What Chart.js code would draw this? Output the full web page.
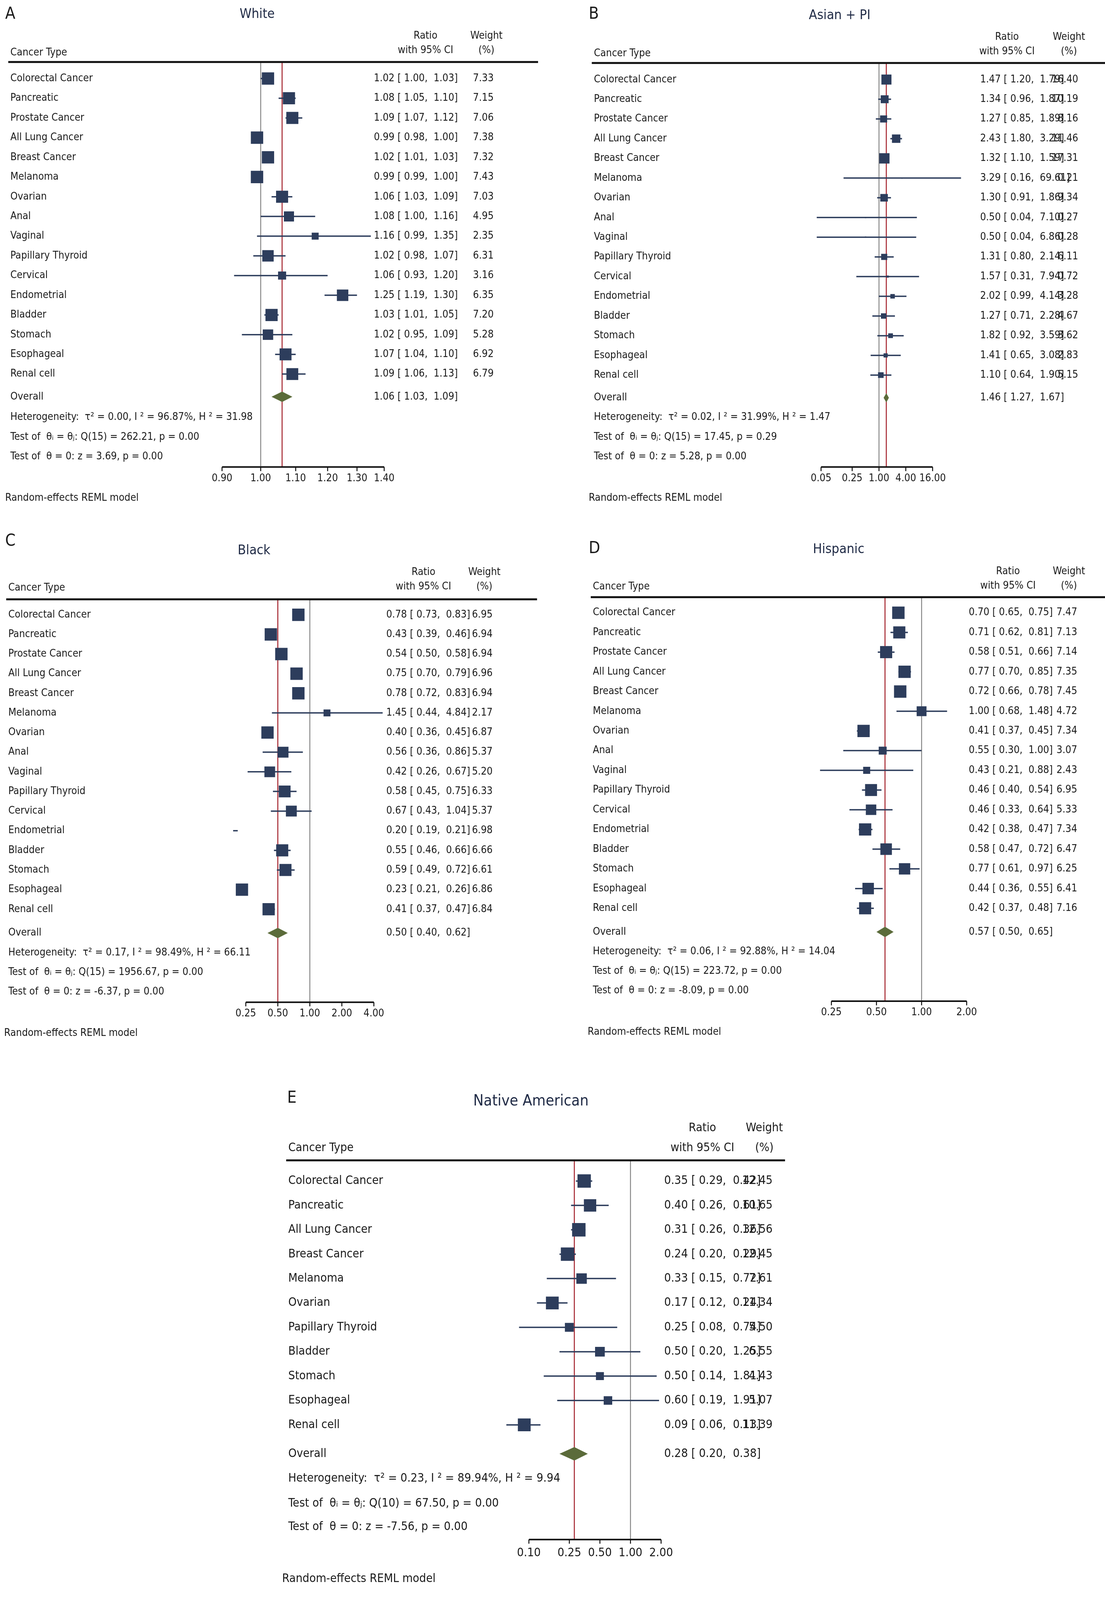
<!DOCTYPE html>
<html>
<head>
<meta charset="utf-8">
<script src="https://cdn.jsdelivr.net/npm/chart.js@4"></script>
<style>
  body { margin: 0; background: #fff; width: 2830px; height: 4133px; position: relative; overflow: hidden; }
  canvas { position: absolute; }
</style>
</head>
<body>
<script>
// dados das 5 populacoes
const tipos16 = ['Colorectal Cancer', 'Pancreatic', 'Prostate Cancer', 'All Lung Cancer', 'Breast Cancer', 'Melanoma', 'Ovarian', 'Anal', 'Vaginal', 'Papillary Thyroid', 'Cervical', 'Endometrial', 'Bladder', 'Stomach', 'Esophageal', 'Renal cell'];
const tiposNA = ['Colorectal Cancer', 'Pancreatic', 'All Lung Cancer', 'Breast Cancer', 'Melanoma', 'Ovarian', 'Papillary Thyroid', 'Bladder', 'Stomach', 'Esophageal', 'Renal cell'];

const whiteRatio = [1.02, 1.08, 1.09, 0.99, 1.02, 0.99, 1.06, 1.08, 1.16, 1.02, 1.06, 1.25, 1.03, 1.02, 1.07, 1.09];
const whiteLo = [1.00, 1.05, 1.07, 0.98, 1.01, 0.99, 1.03, 1.00, 0.99, 0.98, 0.93, 1.19, 1.01, 0.95, 1.04, 1.06];
const whiteHi = [1.03, 1.10, 1.12, 1.00, 1.03, 1.00, 1.09, 1.16, 1.35, 1.07, 1.20, 1.30, 1.05, 1.09, 1.10, 1.13];
const whiteWeight = [7.33, 7.15, 7.06, 7.38, 7.32, 7.43, 7.03, 4.95, 2.35, 6.31, 3.16, 6.35, 7.20, 5.28, 6.92, 6.79];
const whiteOverall = [1.06, 1.03, 1.09];
const whiteTicks = [0.90, 1.00, 1.10, 1.20, 1.30, 1.40];

const asianRatio = [1.47, 1.34, 1.27, 2.43, 1.32, 3.29, 1.30, 0.50, 0.50, 1.31, 1.57, 2.02, 1.27, 1.82, 1.41, 1.10];
const asianLo = [1.20, 0.96, 0.85, 1.80, 1.10, 0.16, 0.91, 0.04, 0.04, 0.80, 0.31, 0.99, 0.71, 0.92, 0.65, 0.64];
const asianHi = [1.79, 1.87, 1.89, 3.29, 1.59, 69.61, 1.86, 7.10, 6.86, 2.14, 7.94, 4.14, 2.28, 3.59, 3.08, 1.90];
const asianWeight = [16.40, 10.19, 8.16, 11.46, 17.31, 0.21, 9.34, 0.27, 0.28, 6.11, 0.72, 3.28, 4.67, 3.62, 2.83, 5.15];
const asianOverall = [1.46, 1.27, 1.67];
const asianTicks = [0.05, 0.25, 1.00, 4.00, 16.00];

const blackRatio = [0.78, 0.43, 0.54, 0.75, 0.78, 1.45, 0.40, 0.56, 0.42, 0.58, 0.67, 0.20, 0.55, 0.59, 0.23, 0.41];
const blackLo = [0.73, 0.39, 0.50, 0.70, 0.72, 0.44, 0.36, 0.36, 0.26, 0.45, 0.43, 0.19, 0.46, 0.49, 0.21, 0.37];
const blackHi = [0.83, 0.46, 0.58, 0.79, 0.83, 4.84, 0.45, 0.86, 0.67, 0.75, 1.04, 0.21, 0.66, 0.72, 0.26, 0.47];
const blackWeight = [6.95, 6.94, 6.94, 6.96, 6.94, 2.17, 6.87, 5.37, 5.20, 6.33, 5.37, 6.98, 6.66, 6.61, 6.86, 6.84];
const blackOverall = [0.50, 0.40, 0.62];
const blackTicks = [0.25, 0.50, 1.00, 2.00, 4.00];

const hispRatio = [0.70, 0.71, 0.58, 0.77, 0.72, 1.00, 0.41, 0.55, 0.43, 0.46, 0.46, 0.42, 0.58, 0.77, 0.44, 0.42];
const hispLo = [0.65, 0.62, 0.51, 0.70, 0.66, 0.68, 0.37, 0.30, 0.21, 0.40, 0.33, 0.38, 0.47, 0.61, 0.36, 0.37];
const hispHi = [0.75, 0.81, 0.66, 0.85, 0.78, 1.48, 0.45, 1.00, 0.88, 0.54, 0.64, 0.47, 0.72, 0.97, 0.55, 0.48];
const hispWeight = [7.47, 7.13, 7.14, 7.35, 7.45, 4.72, 7.34, 3.07, 2.43, 6.95, 5.33, 7.34, 6.47, 6.25, 6.41, 7.16];
const hispOverall = [0.57, 0.50, 0.65];
const hispTicks = [0.25, 0.50, 1.00, 2.00];

const naRatio = [0.35, 0.40, 0.31, 0.24, 0.33, 0.17, 0.25, 0.50, 0.50, 0.60, 0.09];
const naLo = [0.29, 0.26, 0.26, 0.20, 0.15, 0.12, 0.08, 0.20, 0.14, 0.19, 0.06];
const naHi = [0.42, 0.61, 0.36, 0.29, 0.72, 0.24, 0.74, 1.25, 1.81, 1.91, 0.13];
const naWeight = [12.45, 10.65, 12.56, 12.45, 7.61, 11.34, 5.50, 6.55, 4.43, 5.07, 11.39];
const naOverall = [0.28, 0.20, 0.38];
const naTicks = [0.10, 0.25, 0.50, 1.00, 2.00];

const S = 2.645; // escala da imagem
const FONTE = '"Liberation Sans Narrow", "DejaVu Sans Condensed", sans-serif';
const AZUL = '#2d3d5c', VERDE = '#5b6b3a', VERMELHO = '#a3202a', CINZA = '#8a8a8a', TEXTO = '#1a1a1a';

const paineis = [
  { letra: 'A', titulo: 'White', tipos: tipos16, ratio: whiteRatio, lo: whiteLo, hi: whiteHi, peso: whiteWeight, overall: whiteOverall, ticks: whiteTicks,
    stats: ['0.00', '96.87%', '31.98', '15', '262.21', '0.00', '3.69'],
    box: [0, 0, 550, 500], letraXY: [5, 14], tituloXY: [249, 14], hdrY: [35, 49], ctY: 51, ctX: 10, ratioX: 412, pesoX: 471,
    sep: [8, 521, 60], row0: 76, sp: 19.07, overallY: 384, statsY: [404, 423, 442], statsX: 10, axisY: 452, tickY: 463, reml: [5, 482],
    x0: 215, x1: 372, ratioTxt: 362, pesoR: 478, fs: 10, sq: 12, dia: 10 },
  { letra: 'B', titulo: 'Asian + PI', tipos: tipos16, ratio: asianRatio, lo: asianLo, hi: asianHi, peso: asianWeight, overall: asianOverall, ticks: asianTicks,
    stats: ['0.02', '31.99%', '1.47', '15', '17.45', '0.29', '5.28'],
    box: [555, 0, 530, 500], letraXY: [570, 14], tituloXY: [813, 15], hdrY: [36, 50], ctY: 52, ctX: 575, ratioX: 975, pesoX: 1035,
    sep: [573, 1085, 61], row0: 77, sp: 19.07, overallY: 385, statsY: [404, 423, 442], statsX: 575, axisY: 452, tickY: 463, reml: [570, 482],
    x0: 795, x1: 903, ratioTxt: 949, pesoR: 1044, fs: 10, sq: 10, dia: 9 },
  { letra: 'C', titulo: 'Black', tipos: tipos16, ratio: blackRatio, lo: blackLo, hi: blackHi, peso: blackWeight, overall: blackOverall, ticks: blackTicks,
    stats: ['0.17', '98.49%', '66.11', '15', '1956.67', '0.00', '-6.37'],
    box: [0, 510, 550, 500], letraXY: [5, 524], tituloXY: [246, 533], hdrY: [554, 568], ctY: 569, ctX: 8, ratioX: 410, pesoX: 469,
    sep: [6, 520, 580], row0: 595, sp: 19.0, overallY: 903, statsY: [922, 941, 960], statsX: 8, axisY: 970, tickY: 981, reml: [4, 1000],
    x0: 238, x1: 362, ratioTxt: 374, pesoR: 477, fs: 10, sq: 12, dia: 10 },
  { letra: 'D', titulo: 'Hispanic', tipos: tipos16, ratio: hispRatio, lo: hispLo, hi: hispHi, peso: hispWeight, overall: hispOverall, ticks: hispTicks,
    stats: ['0.06', '92.88%', '14.04', '15', '223.72', '0.00', '-8.09'],
    box: [555, 510, 530, 500], letraXY: [570, 531], tituloXY: [812, 532], hdrY: [553, 567], ctY: 568, ctX: 574, ratioX: 976, pesoX: 1035,
    sep: [572, 1085, 578], row0: 593, sp: 19.07, overallY: 902, statsY: [921, 940, 959], statsX: 574, axisY: 969, tickY: 980, reml: [569, 999],
    x0: 805, x1: 936, ratioTxt: 938, pesoR: 1043, fs: 10, sq: 12, dia: 10 },
  { letra: 'E', titulo: 'Native American', tipos: tiposNA, ratio: naRatio, lo: naLo, hi: naHi, peso: naWeight, overall: naOverall, ticks: naTicks,
    stats: ['0.23', '89.94%', '9.94', '10', '67.50', '0.00', '-7.56'],
    box: [260, 1040, 540, 500], letraXY: [278, 1063], tituloXY: [514, 1066], hdrY: [1092, 1111], ctY: 1111, ctX: 279, ratioX: 680, pesoX: 740,
    sep: [277, 760, 1123], row0: 1143, sp: 23.6, overallY: 1407, statsY: [1431, 1455, 1478], statsX: 279, axisY: 1490, tickY: 1503, reml: [273, 1528],
    x0: 512, x1: 640, ratioTxt: 643, pesoR: 748, fs: 11.5, sq: 13, dia: 13 }
];

const f2 = v => v.toFixed(2);

function desenharPainel(p) {
  const cv = document.createElement('canvas');
  const W = Math.round(p.box[2] * S), H = Math.round(p.box[3] * S);
  cv.width = W; cv.height = H;
  cv.style.left = Math.round(p.box[0] * S) + 'px';
  cv.style.top = Math.round(p.box[1] * S) + 'px';
  document.body.appendChild(cv);
  const ox = p.box[0], oy = p.box[1];
  const px = v => (v) * S;
  const n = p.tipos.length;
  const wmax = Math.max(...p.peso);
  const yMin = (p.sep[2] - p.row0) / p.sp, yMax = (p.axisY - p.row0) / p.sp;
  const idxOverall = (p.overallY - p.row0) / p.sp;

  const forest = {
    id: 'forest',
    beforeDatasetsDraw(chart) {
      const c = chart.ctx, xs = chart.scales.x, ys = chart.scales.y, a = chart.chartArea;
      c.save();
      // linhas de referencia
      c.lineWidth = 2.5;
      c.strokeStyle = CINZA;
      c.beginPath(); c.moveTo(xs.getPixelForValue(1), a.top); c.lineTo(xs.getPixelForValue(1), a.bottom); c.stroke();
      c.strokeStyle = VERMELHO;
      c.beginPath(); c.moveTo(xs.getPixelForValue(p.overall[0]), a.top); c.lineTo(xs.getPixelForValue(p.overall[0]), a.bottom); c.stroke();
      // intervalos de confianca
      c.strokeStyle = AZUL; c.lineWidth = 3.5;
      for (let i = 0; i < n; i++) {
        const y = ys.getPixelForValue(i);
        c.beginPath(); c.moveTo(xs.getPixelForValue(p.lo[i]), y); c.lineTo(xs.getPixelForValue(p.hi[i]), y); c.stroke();
      }
      c.restore();
    },
    afterDatasetsDraw(chart) {
      const c = chart.ctx, xs = chart.scales.x, ys = chart.scales.y, a = chart.chartArea;
      c.save();
      // diamante do overall
      const yo = ys.getPixelForValue(idxOverall), h = px(p.dia) / 2;
      c.fillStyle = VERDE;
      c.beginPath();
      c.moveTo(xs.getPixelForValue(p.overall[1]), yo);
      c.lineTo(xs.getPixelForValue(p.overall[0]), yo - h);
      c.lineTo(xs.getPixelForValue(p.overall[2]), yo);
      c.lineTo(xs.getPixelForValue(p.overall[0]), yo + h);
      c.closePath(); c.fill();
      // eixo x
      c.strokeStyle = '#111'; c.lineWidth = 4;
      c.beginPath(); c.moveTo(a.left, a.bottom); c.lineTo(a.right, a.bottom); c.stroke();
      c.lineWidth = 2.5;
      c.fillStyle = TEXTO;
      c.font = px(p.fs) + 'px ' + FONTE;
      c.textAlign = 'center'; c.textBaseline = 'middle';
      p.ticks.forEach(t => {
        const x = xs.getPixelForValue(t);
        c.beginPath(); c.moveTo(x, a.bottom); c.lineTo(x, a.bottom + px(4)); c.stroke();
        c.fillText(f2(t), x, px(p.tickY - oy));
      });
      // textos
      c.textAlign = 'left';
      c.font = px(16) + 'px ' + FONTE;
      c.fillText(p.letra, px(p.letraXY[0] - ox), px(p.letraXY[1] - oy));
      c.textAlign = 'center';
      c.fillStyle = '#1f2a45';
      c.font = px(p.fs * 1.3) + 'px ' + FONTE;
      c.fillText(p.titulo, px(p.tituloXY[0] - ox), px(p.tituloXY[1] - oy));
      c.fillStyle = TEXTO;
      c.font = px(p.fs) + 'px ' + FONTE;
      c.fillText('Ratio', px(p.ratioX - ox), px(p.hdrY[0] - oy));
      c.fillText('with 95% CI', px(p.ratioX - ox), px(p.hdrY[1] - oy));
      c.fillText('Weight', px(p.pesoX - ox), px(p.hdrY[0] - oy));
      c.fillText('(%)', px(p.pesoX - ox), px(p.hdrY[1] - oy));
      c.textAlign = 'left';
      c.fillText('Cancer Type', px(p.ctX - ox), px(p.ctY - oy));
      c.lineWidth = 5;
      c.beginPath(); c.moveTo(px(p.sep[0] - ox), px(p.sep[2] - oy)); c.lineTo(px(p.sep[1] - ox), px(p.sep[2] - oy)); c.stroke();
      for (let i = 0; i < n; i++) {
        const y = ys.getPixelForValue(i);
        c.textAlign = 'left';
        c.fillText(p.tipos[i], px(p.ctX - ox), y);
        c.fillText(f2(p.ratio[i]) + ' [ ' + f2(p.lo[i]) + ',  ' + f2(p.hi[i]) + ']', px(p.ratioTxt - ox), y);
        c.textAlign = 'right';
        c.fillText(f2(p.peso[i]), px(p.pesoR - ox), y);
      }
      c.textAlign = 'left';
      c.fillText('Overall', px(p.ctX - ox), yo);
      c.fillText(f2(p.overall[0]) + ' [ ' + f2(p.overall[1]) + ',  ' + f2(p.overall[2]) + ']', px(p.ratioTxt - ox), yo);
      const s = p.stats;
      c.fillText('Heterogeneity:  τ² = ' + s[0] + ', I ² = ' + s[1] + ', H ² = ' + s[2], px(p.statsX - ox), px(p.statsY[0] - oy));
      c.fillText('Test of  θᵢ = θⱼ: Q(' + s[3] + ') = ' + s[4] + ', p = ' + s[5], px(p.statsX - ox), px(p.statsY[1] - oy));
      c.fillText('Test of  θ = 0: z = ' + s[6] + ', p = 0.00', px(p.statsX - ox), px(p.statsY[2] - oy));
      c.fillText('Random-effects REML model', px(p.reml[0] - ox), px(p.reml[1] - oy));
      c.restore();
    }
  };

  new Chart(cv.getContext('2d'), {
    type: 'scatter',
    data: {
      datasets: [{
        data: p.ratio.map((r, i) => ({ x: r, y: i })),
        pointStyle: 'rect',
        pointRadius: p.peso.map(w => px(p.sq) * Math.sqrt(w / wmax) / Math.SQRT2),
        backgroundColor: AZUL,
        borderWidth: 0,
        clip: false
      }]
    },
    options: {
      responsive: false,
      devicePixelRatio: 1,
      animation: false,
      events: [],
      layout: { padding: { left: px(p.x0 - ox), right: W - px(p.x1 - ox), top: px(p.sep[2] - oy), bottom: H - px(p.axisY - oy) } },
      plugins: { legend: { display: false }, tooltip: { enabled: false } },
      scales: {
        x: { type: 'logarithmic', min: p.ticks[0], max: p.ticks[p.ticks.length - 1], display: false },
        y: { type: 'linear', min: yMin, max: yMax, reverse: true, display: false }
      }
    },
    plugins: [forest]
  });
}

paineis.forEach(desenharPainel);
</script>
</body>
</html>
